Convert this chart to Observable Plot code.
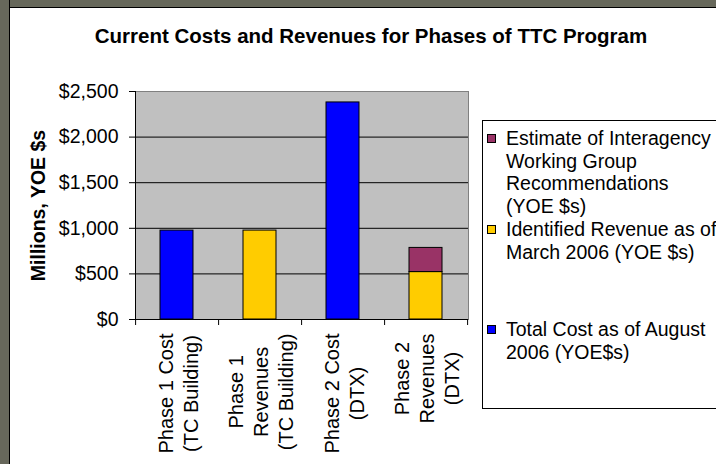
<!DOCTYPE html>
<html>
<head>
<meta charset="utf-8">
<script src="https://cdn.jsdelivr.net/npm/d3@7"></script>
<script src="https://cdn.jsdelivr.net/npm/@observablehq/plot@0.6"></script>
<style>
  html, body { margin: 0; padding: 0; overflow: hidden; background: #fff; }
  body { width: 716px; height: 464px; position: relative; font-family: "Liberation Sans", Arial, sans-serif; }
  #frameTop { position: absolute; left: 0; top: 0; width: 716px; height: 7px; background: #67685b; border-bottom: 1px solid #000; }
  #frameLeft { position: absolute; left: 0; top: 0; width: 9px; height: 464px; background: #67685b; border-right: 1px solid #000; }
  #title { position: absolute; left: 0; top: 24px; width: 742px; text-align: center; font-weight: bold; font-size: 20.5px; line-height: 24px; color: #000; white-space: nowrap; }
  #chart { position: absolute; left: 0; top: 0; }
  #legend { position: absolute; left: 482px; top: 120px; width: 300px; height: 289px; border: 1px solid #000; background: #fff; box-sizing: border-box; }
  .entry { position: relative; padding-left: 23px; font-size: 19.5px; line-height: 22.5px; color: #000; white-space: nowrap; }
  .sw { position: absolute; left: 4px; top: 7px; width: 7px; height: 7px; border: 1px solid #000; }
</style>
</head>
<body>
<div id="frameTop"></div>
<div id="frameLeft"></div>
<div id="title"></div>
<div id="chart"></div>
<div id="legend"></div>
<script>
// ---- data ----
const title = "Current Costs and Revenues for Phases of TTC Program";
const yLabel = "Millions, YOE $s";
const categories = ["Phase 1 Cost (TC Building)", "Phase 1 Revenues (TC Building)", "Phase 2 Cost (DTX)", "Phase 2 Revenues (DTX)"];
const categoryLabels = ["Phase 1 Cost\n(TC Building)", "Phase 1\nRevenues\n(TC Building)", "Phase 2 Cost\n(DTX)", "Phase 2\nRevenues\n(DTX)"];
const seriesNames = ["Total Cost as of August 2006 (YOE$s)", "Identified Revenue as of March 2006 (YOE $s)", "Estimate of Interagency Working Group Recommendations (YOE $s)"];
const legendLabels = ["Estimate of Interagency<br>Working Group<br>Recommendations<br>(YOE $s)", "Identified Revenue as of<br>March 2006 (YOE $s)", "Total Cost as of August<br>2006 (YOE$s)"];
const totalCost = [975, null, 2380, null];
const identifiedRevenue = [null, 975, null, 520];
const estimateIWG = [null, null, null, 265];
const seriesColors = ["#0000ff", "#ffcc00", "#993366"];
const yTicks = [0, 500, 1000, 1500, 2000, 2500];

// ---- table ----
const seriesValues = [totalCost, identifiedRevenue, estimateIWG];
const table = [];
categories.forEach((c, i) => {
  seriesValues.forEach((vals, s) => {
    if (vals[i] != null) table.push({category: c, series: seriesNames[s], value: vals[i]});
  });
});

document.getElementById("title").textContent = title;

const labelFontSize = 20;
const ctx = document.createElement("canvas").getContext("2d");
ctx.font = labelFontSize + "px 'Liberation Sans', Arial, sans-serif";
const maxLen = categoryLabels.map(l => Math.max(...l.split("\n").map(t => ctx.measureText(t).width)));

const W = 480, H = 464;
const mL = 135, mR = 12, mT = 91, mB = 145;

const xTicksMark = Plot.ruleX(categories, {
  x: d => d,
  render(index, scales, values, dimensions) {
    const x = scales.x;
    const step = x.step ? x.step() : (dimensions.width - dimensions.marginLeft - dimensions.marginRight) / categories.length;
    const edges = categories.map(c => x(c) - step * 0.3);
    edges.push(edges[edges.length - 1] + step);
    const yb = dimensions.height - dimensions.marginBottom;
    const g = d3.create("svg:g");
    g.selectAll("line").data(edges).join("line")
      .attr("x1", d => d + 0.5).attr("x2", d => d + 0.5)
      .attr("y1", yb).attr("y2", yb + 6)
      .attr("stroke", "#000");
    g.append("line")
      .attr("x1", dimensions.marginLeft + 0.5).attr("x2", dimensions.marginLeft + 0.5)
      .attr("y1", dimensions.marginTop).attr("y2", yb)
      .attr("stroke", "#000");
    return g.node();
  }
});

const plot = Plot.plot({
  width: W,
  height: H,
  marginLeft: mL,
  marginRight: mR,
  marginTop: mT,
  marginBottom: mB,
  style: {fontSize: "19.5px", fontFamily: "'Liberation Sans', Arial, sans-serif", background: "transparent", color: "#000", overflow: "visible"},
  x: {domain: categories, paddingInner: 0.6, paddingOuter: 0.3, axis: null},
  y: {domain: [0, 2500], axis: null},
  color: {domain: seriesNames, range: seriesColors},
  marks: [
    Plot.frame({fill: "#c0c0c0", stroke: "#808080"}),
    Plot.ruleY(yTicks.filter(d => d > 0 && d < 2500), {stroke: "#000"}),
    Plot.barY(table, Plot.stackY({x: "category", y: "value", fill: "series", stroke: "#000", strokeWidth: 1})),
    Plot.ruleY([0], {stroke: "#000"}),
    Plot.axisY({ticks: yTicks, tickSize: 6, tickPadding: 11, tickFormat: d => "$" + d3.format(",")(d), label: null, stroke: "#000"}),
    xTicksMark,
    Plot.text([yLabel], {frameAnchor: "left", text: d => d, rotate: -90, dx: -97, fontWeight: "bold", textAnchor: "middle", fontSize: 19.5}),
    ...categories.map((c, i) => Plot.text([c], {
      x: d => d, text: () => categoryLabels[i], frameAnchor: "bottom",
      rotate: -90, textAnchor: "middle", lineAnchor: "middle", lineHeight: 1.25,
      fontSize: labelFontSize,
      dy: 14 + maxLen[i] / 2
    }))
  ]
});
document.getElementById("chart").appendChild(plot);

// ---- legend ----
const legend = d3.select("#legend");
const order = [2, 1, 0];
const tops = [6, 1, 55];
order.forEach((s, k) => {
  const e = legend.append("div").attr("class", "entry").style("margin-top", tops[k] + "px");
  e.append("div").attr("class", "sw").style("background", seriesColors[s]);
  e.append("span").html(legendLabels[k]);
});
</script>
</body>
</html>
